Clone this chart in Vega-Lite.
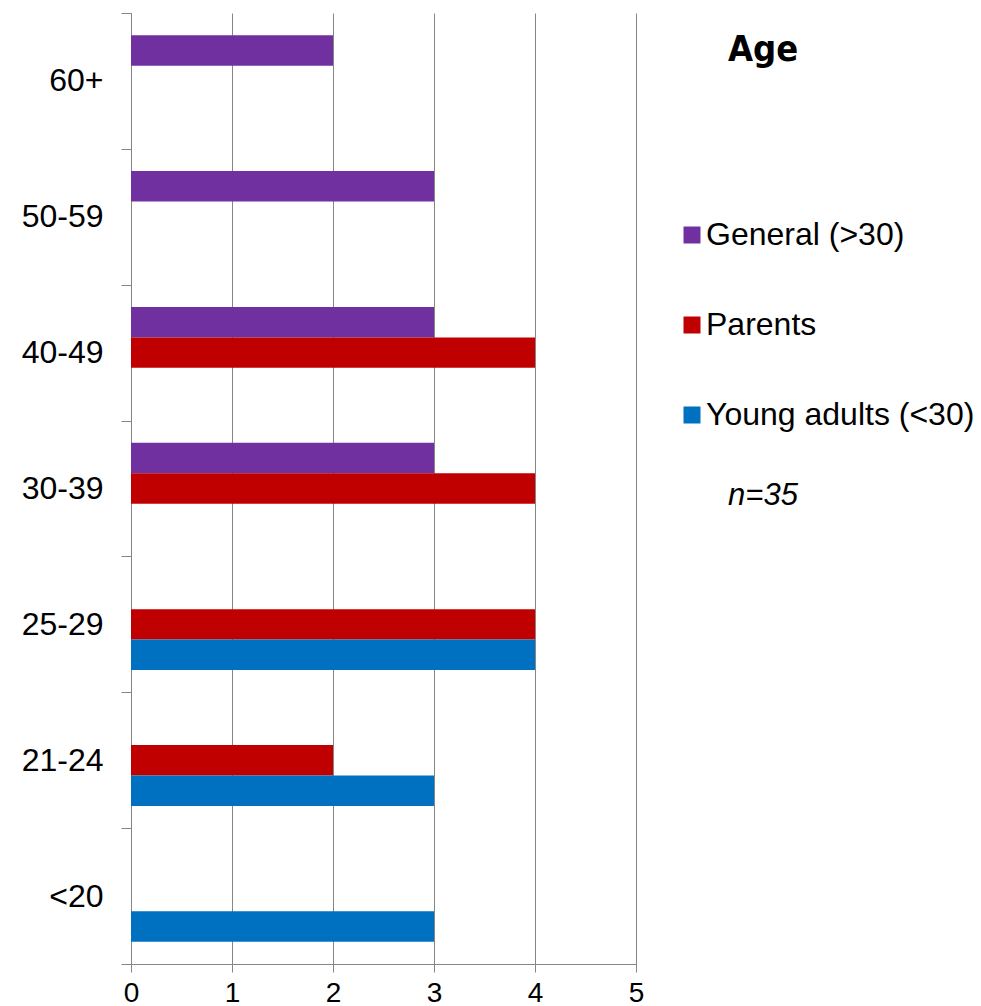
{
  "$schema": "https://vega.github.io/schema/vega-lite/v6.json",
  "width": 505,
  "height": 951,
  "autosize": "none",
  "padding": {"left": 131, "top": 13, "right": 345, "bottom": 42},
  "background": "white",
  "title": {
    "text": "Age",
    "subtitle": "n=35",
    "orient": "top",
    "anchor": "start",
    "frame": "group",
    "align": "center",
    "dx": 632,
    "offset": -515,
    "font": "DejaVu Sans Condensed, Liberation Sans",
    "fontWeight": "bold",
    "fontSize": 36,
    "color": "black",
    "subtitleFont": "Liberation Sans",
    "subtitleFontStyle": "italic",
    "subtitleFontSize": 31,
    "subtitleColor": "black",
    "subtitlePadding": 412
  },
  "data": {
    "values": [
      {"age": "60+", "group": "General (>30)", "count": 2},
      {"age": "50-59", "group": "General (>30)", "count": 3},
      {"age": "40-49", "group": "General (>30)", "count": 3},
      {"age": "40-49", "group": "Parents", "count": 4},
      {"age": "30-39", "group": "General (>30)", "count": 3},
      {"age": "30-39", "group": "Parents", "count": 4},
      {"age": "25-29", "group": "Parents", "count": 4},
      {"age": "25-29", "group": "Young adults (<30)", "count": 4},
      {"age": "21-24", "group": "Parents", "count": 2},
      {"age": "21-24", "group": "Young adults (<30)", "count": 3},
      {"age": "<20", "group": "Young adults (<30)", "count": 3}
    ]
  },
  "mark": {"type": "bar"},
  "encoding": {
    "y": {
      "field": "age",
      "type": "nominal",
      "sort": ["60+", "50-59", "40-49", "30-39", "25-29", "21-24", "<20"],
      "scale": {"domain": ["60+", "50-59", "40-49", "30-39", "25-29", "21-24", "<20"], "paddingInner": 0, "paddingOuter": 0},
      "axis": {
        "title": null,
        "grid": false,
        "tickBand": "extent",
        "tickSize": 10,
        "tickColor": "#868686",
        "domainColor": "#868686",
        "labelFont": "Liberation Sans",
        "labelFontSize": 32,
        "labelColor": "black",
        "labelPadding": 18
      }
    },
    "yOffset": {
      "field": "group",
      "type": "nominal",
      "sort": ["General (>30)", "Parents", "Young adults (<30)"],
      "scale": {"domain": ["General (>30)", "Parents", "Young adults (<30)"], "paddingInner": 0, "paddingOuter": 0.73}
    },
    "x": {
      "field": "count",
      "type": "quantitative",
      "scale": {"domain": [0, 5], "nice": false},
      "axis": {
        "title": null,
        "values": [0, 1, 2, 3, 4, 5],
        "grid": true,
        "gridColor": "#868686",
        "gridOpacity": 1,
        "tickSize": 8,
        "tickColor": "#868686",
        "domainColor": "#868686",
        "labelFont": "Liberation Sans",
        "labelFontSize": 28,
        "labelColor": "black",
        "labelPadding": 7,
        "labelFlush": false,
        "labelOverlap": false
      }
    },
    "color": {
      "field": "group",
      "type": "nominal",
      "scale": {"domain": ["General (>30)", "Parents", "Young adults (<30)"], "range": ["#7030A0", "#C00000", "#0070C0"]},
      "legend": {
        "orient": "none",
        "legendX": 545,
        "legendY": 206,
        "direction": "vertical",
        "title": null,
        "padding": 0,
        "symbolType": "square",
        "symbolSize": 289,
        "symbolStrokeWidth": 0,
        "symbolOpacity": 1,
        "labelFont": "Liberation Sans",
        "labelFontSize": 32,
        "labelColor": "black",
        "labelOffset": -2,
        "labelLimit": 400,
        "rowPadding": 58
      }
    }
  },
  "config": {"view": {"stroke": null}}
}
